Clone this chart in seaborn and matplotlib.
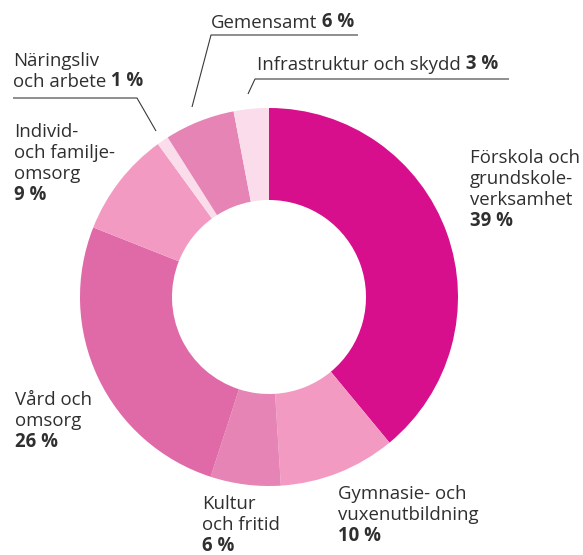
import matplotlib
matplotlib.use("Agg")
import matplotlib.pyplot as plt
import seaborn as sns

# ---- data ----
categories = [
    "Förskola och grundskoleverksamhet",
    "Gymnasie- och vuxenutbildning",
    "Kultur och fritid",
    "Vård och omsorg",
    "Individ- och familjeomsorg",
    "Näringsliv och arbete",
    "Gemensamt",
    "Infrastruktur och skydd",
]
shares = [39, 10, 6, 26, 9, 1, 6, 3]
label_lines = [
    ["Förskola och", "grundskole-", "verksamhet"],
    ["Gymnasie- och", "vuxenutbildning"],
    ["Kultur", "och fritid"],
    ["Vård och", "omsorg"],
    ["Individ-", "och familje-", "omsorg"],
    ["Näringsliv", "och arbete"],
    ["Gemensamt"],
    ["Infrastruktur och skydd"],
]
value_inline = [False, False, False, False, False, True, True, True]

# ---- style ----
sns.set_theme(style="white")
plt.rcParams["font.family"] = ["Open Sans", "DejaVu Sans"]
palette = sns.color_palette(["#D70F8C", "#F39AC2", "#E584B5", "#E06AA8",
                             "#F39AC2", "#FBDCEA", "#E584B5", "#FBDCEA"])
text_color = "#2f2f2f"
fs = 13.4

W, H = 583, 555
fig = plt.figure(figsize=(W / 100, H / 100), dpi=100)
ax = fig.add_axes([0, 0, 1, 1])

cx, cy, R, ring = 269, 297, 189, 92
ax.pie(shares, colors=palette, startangle=90, counterclock=False,
       radius=R, center=(cx, H - cy),
       wedgeprops=dict(width=ring, linewidth=0))
ax.set_xlim(0, W)
ax.set_ylim(0, H)
ax.set_aspect("equal")
ax.axis("off")

# label layout: (x, first baseline y in px from top)
layout = [
    (470, 163),
    (338, 499),
    (202, 509),
    (15, 405),
    (14, 137),
    (13, 66),
    (211, 28),
    (257, 70),
]
step = 21

for lines, val, inline, (x, y0) in zip(label_lines, shares, value_inline, layout):
    t = None
    for i, line in enumerate(lines):
        t = ax.text(x, H - (y0 + i * step), line, fontsize=fs, color=text_color,
                    ha="left", va="baseline")
    vtxt = f"{val} %"
    if inline:
        ax.annotate(" " + vtxt, xy=(1, 0), xycoords=t, ha="left", va="bottom",
                    fontsize=fs, fontweight="bold", color=text_color)
    else:
        ax.text(x, H - (y0 + len(lines) * step), vtxt, fontsize=fs,
                fontweight="bold", color=text_color, ha="left", va="baseline")

# leader lines (px from top)
leaders = [
    [(358, 35), (211, 35), (192, 107)],
    [(509, 79), (255, 79), (248, 94)],
    [(13, 98), (137, 98), (156, 131)],
]
for pts in leaders:
    xs = [p[0] for p in pts]
    ys = [H - p[1] for p in pts]
    ax.plot(xs, ys, color="#3a3a3a", linewidth=0.8, solid_capstyle="butt")

fig.savefig("out.png", dpi=100)
